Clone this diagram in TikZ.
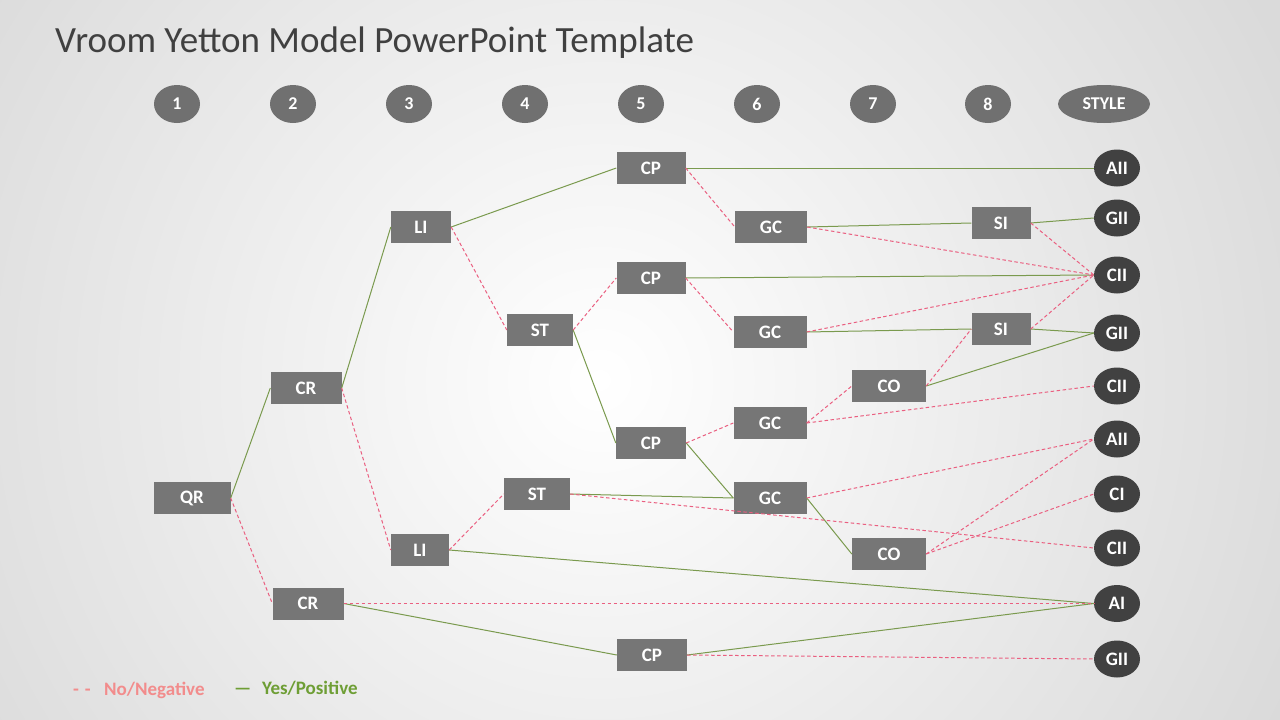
\documentclass[tikz,border=0pt]{standalone}
\usepackage{fontspec}
\setmainfont{Carlito}
\usetikzlibrary{shapes.geometric}
\definecolor{boxgray}{HTML}{767676}
\definecolor{hdrgray}{HTML}{707070}
\definecolor{stylegray}{HTML}{414141}
\definecolor{yesgreen}{HTML}{7A9A4E}
\definecolor{nored}{HTML}{EA5F80}
\definecolor{legred}{HTML}{F28C8C}
\definecolor{leggreen}{HTML}{6E9E35}
\definecolor{titlegray}{HTML}{404040}
\definecolor{bgedge}{HTML}{DADADA}
\begin{document}
\begin{tikzpicture}[x=1pt,y=-1pt,
  dbox/.style={draw=none,fill=boxgray,text=white,font=\fontsize{19}{20}\selectfont\bfseries,inner sep=0pt,minimum height=32pt},
  hdr/.style={ellipse,fill=hdrgray,text=white,font=\fontsize{18}{20}\selectfont\bfseries,inner sep=0pt,minimum width=46pt,minimum height=38pt},
  sty/.style={ellipse,fill=stylegray,text=white,font=\fontsize{19}{20}\selectfont\bfseries,inner sep=0pt,minimum width=46pt,minimum height=37pt},
  yes/.style={draw=yesgreen,line width=1pt},
  no/.style={draw=nored,line width=1pt,dash pattern=on 3.5pt off 2.5pt},
  leg/.style={anchor=base west,font=\fontsize{19}{20}\selectfont\bfseries,inner sep=0pt}]
\useasboundingbox (0,0) rectangle (1280,720);
\fill[bgedge] (0,0) rectangle (1280,720);
\begin{scope}
\clip (0,0) rectangle (1280,720);
\shade[inner color=white,outer color=bgedge] (600,380) circle (760);
\end{scope}
% title
\node[anchor=base west,text=titlegray,font=\fontsize{37}{40}\selectfont,inner sep=0pt] (title) at (55,52) {Vroom Yetton Model PowerPoint Template};
% header
\node[hdr] (h1) at (177,104) {1};
\node[hdr] (h2) at (293,104) {2};
\node[hdr] (h3) at (409,104) {3};
\node[hdr] (h4) at (525,104) {4};
\node[hdr] (h5) at (641,104) {5};
\node[hdr] (h6) at (757,104) {6};
\node[hdr] (h7) at (873,104) {7};
\node[hdr] (h8) at (988,104) {8};
\node[hdr,minimum width=92pt] (hs) at (1104,104) {STYLE};
% boxes
\node[dbox,minimum width=77pt] (qr) at (192,498) {QR};
\node[dbox,minimum width=71pt] (cr1) at (306,388) {CR};
\node[dbox,minimum width=71pt] (cr2) at (308,603.5) {CR};
\node[dbox,minimum width=60pt] (li1) at (421,227) {LI};
\node[dbox,minimum width=58pt] (li2) at (420,550) {LI};
\node[dbox,minimum width=66pt] (st1) at (540,330) {ST};
\node[dbox,minimum width=66pt] (st2) at (537,494) {ST};
\node[dbox,minimum width=69pt] (cp1) at (651,168) {CP};
\node[dbox,minimum width=69pt] (cp2) at (651,278) {CP};
\node[dbox,minimum width=70pt] (cp3) at (651,443) {CP};
\node[dbox,minimum width=70pt] (cp4) at (652,655) {CP};
\node[dbox,minimum width=72pt] (gc1) at (771,227) {GC};
\node[dbox,minimum width=73pt] (gc2) at (770,332) {GC};
\node[dbox,minimum width=73pt] (gc3) at (770,423) {GC};
\node[dbox,minimum width=73pt] (gc4) at (770,498) {GC};
\node[dbox,minimum width=74pt] (co1) at (889,386) {CO};
\node[dbox,minimum width=74pt] (co2) at (889,554) {CO};
\node[dbox,minimum width=59pt] (si1) at (1001,223) {SI};
\node[dbox,minimum width=59pt] (si2) at (1001,329) {SI};
% styles
\node[sty] (s1) at (1117,168) {AII};
\node[sty] (s2) at (1117,218) {GII};
\node[sty] (s3) at (1117,275) {CII};
\node[sty] (s4) at (1117,333) {GII};
\node[sty] (s5) at (1117,386) {CII};
\node[sty] (s6) at (1117,439) {AII};
\node[sty] (s7) at (1117,494) {CI};
\node[sty] (s8) at (1117,548) {CII};
\node[sty] (s9) at (1117,603.5) {AI};
\node[sty] (s10) at (1117,659) {GII};
% yes connectors
\draw[yes] (qr.east) -- (cr1.west);
\draw[yes] (cr1.east) -- (li1.west);
\draw[yes] (li1.east) -- (cp1.west);
\draw[yes] (cp1.east) -- (s1.west);
\draw[yes] (gc1.east) -- (si1.west);
\draw[yes] (si1.east) -- (s2.west);
\draw[yes] (cp2.east) -- (s3.west);
\draw[yes] (gc2.east) -- (si2.west);
\draw[yes] (si2.east) -- (s4.west);
\draw[yes] (co1.east) -- (s4.west);
\draw[yes] (st1.east) -- (cp3.west);
\draw[yes] (cp3.east) -- (gc4.west);
\draw[yes] (st2.east) -- (gc4.west);
\draw[yes] (gc4.east) -- (co2.west);
\draw[yes] (li2.east) -- (s9.west);
\draw[yes] (cr2.east) -- (cp4.west);
\draw[yes] (cp4.east) -- (s9.west);
% no connectors
\draw[no] (qr.east) -- (cr2.west);
\draw[no] (cr1.east) -- (li2.west);
\draw[no] (li1.east) -- (st1.west);
\draw[no] (li2.east) -- (st2.west);
\draw[no] (st1.east) -- (cp2.west);
\draw[no] (cp1.east) -- (gc1.west);
\draw[no] (cp2.east) -- (gc2.west);
\draw[no] (gc1.east) -- (s3.west);
\draw[no] (si1.east) -- (s3.west);
\draw[no] (gc2.east) -- (s3.west);
\draw[no] (si2.east) -- (s3.west);
\draw[no] (co1.east) -- (si2.west);
\draw[no] (cp3.east) -- (gc3.west);
\draw[no] (gc3.east) -- (co1.west);
\draw[no] (gc3.east) -- (s5.west);
\draw[no] (gc4.east) -- (s6.west);
\draw[no] (st2.east) -- (s8.west);
\draw[no] (co2.east) -- (s6.west);
\draw[no] (co2.east) -- (s7.west);
\draw[no,line width=1.2pt] (cr2.east) -- (s9.west);
\draw[no] (cp4.east) -- (s10.west);
% legend
\node[leg,text=legred] (legnomark) at (73,695) {-\hspace{6pt}-};
\node[leg,text=legred] (legno) at (104,695) {No/Negative};
\node[leg,text=leggreen] (legyesmark) at (234,694) {—};
\node[leg,text=leggreen] (legyes) at (262,694) {Yes/Positive};
\end{tikzpicture}
\end{document}
